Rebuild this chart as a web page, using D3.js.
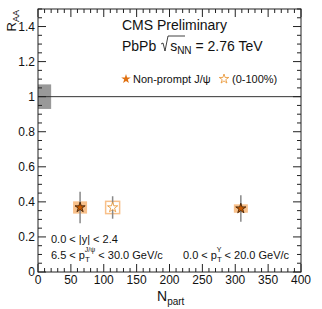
<!DOCTYPE html>
<html>
<head>
<meta charset="utf-8">
<script src="https://cdn.jsdelivr.net/npm/d3@7"></script>
<style>
  body { margin: 0; background: #fff; }
  svg { font-family: "Liberation Sans", Arial, sans-serif; }
</style>
</head>
<body>
<div id="chart"></div>
<script>
// data
const npart = [64, 113.5, 308.5];
const raa = [0.368, 0.368, 0.362];
const statErr = [0.09, 0.064, 0.076];
const sysErr = [0.035, 0.035, 0.024];
const filled = [true, false, true];
const globalSys = 0.07; // box at unity
const xTicks = [0, 50, 100, 150, 200, 250, 300, 350, 400];
const yTicks = [0, 0.2, 0.4, 0.6, 0.8, 1, 1.2, 1.4];

const W = 322, H = 309;
const margin = { top: 9, right: 21, bottom: 37, left: 38 },
  width = W - margin.left - margin.right,
  height = H - margin.top - margin.bottom;

const svg = d3.select("#chart").append("svg")
  .attr("width", W).attr("height", H);
const g = svg.append("g")
  .attr("transform", `translate(${margin.left},${margin.top})`);

const x = d3.scaleLinear().domain([0, 400]).range([0, width]);
const y = d3.scaleLinear().domain([0, 1.5]).range([height, 0]);

// global uncertainty box at 1
g.append("rect")
  .attr("x", x(0)).attr("width", x(20) - x(0))
  .attr("y", y(1 + globalSys)).attr("height", y(1 - globalSys) - y(1 + globalSys))
  .attr("fill", "#999");

// line at unity
g.append("line")
  .attr("x1", 0).attr("x2", width)
  .attr("y1", y(1)).attr("y2", y(1))
  .attr("stroke", "#333").attr("stroke-width", 1);

// ticks (ROOT style, all four sides)
const minorX = d3.range(0, 401, 10);
const minorY = d3.range(0, 1.501, 0.05);
const tickG = g.append("g").attr("stroke", "#222").attr("stroke-width", 1);
minorX.forEach((v) => {
  const len = v % 50 === 0 ? 8 : 4;
  tickG.append("line").attr("x1", x(v)).attr("x2", x(v)).attr("y1", height).attr("y2", height - len);
  tickG.append("line").attr("x1", x(v)).attr("x2", x(v)).attr("y1", 0).attr("y2", len);
});
minorY.forEach((v, i) => {
  const len = i % 4 === 0 ? 8 : 4;
  tickG.append("line").attr("x1", 0).attr("x2", len).attr("y1", y(v)).attr("y2", y(v));
  tickG.append("line").attr("x1", width).attr("x2", width - len).attr("y1", y(v)).attr("y2", y(v));
});

// frame
g.append("rect").attr("width", width).attr("height", height)
  .attr("fill", "none").attr("stroke", "#222").attr("stroke-width", 1);

// tick labels
g.selectAll(".xl").data(xTicks).join("text")
  .attr("x", (d) => x(d)).attr("y", height + 12)
  .attr("text-anchor", "middle").attr("font-size", 12).attr("fill", "#111")
  .text((d) => d);
g.selectAll(".yl").data(yTicks).join("text")
  .attr("x", -3).attr("y", (d) => y(d) + 4)
  .attr("text-anchor", "end").attr("font-size", 12).attr("fill", "#111")
  .text((d) => d);

// axis titles
const ty = svg.append("text")
  .attr("transform", `translate(16,${margin.top + 1}) rotate(-90)`)
  .attr("text-anchor", "end").attr("font-size", 13).attr("fill", "#111");
ty.append("tspan").text("R");
ty.append("tspan").attr("font-size", 9).attr("dy", 3).text("AA");

const tx = svg.append("text")
  .attr("x", 157).attr("y", 301).attr("font-size", 14).attr("fill", "#111");
tx.append("tspan").text("N");
tx.append("tspan").attr("font-size", 10).attr("dy", 4).text("part");

// header
svg.append("text").attr("x", 122).attr("y", 30).attr("font-size", 14).attr("fill", "#111")
  .text("CMS Preliminary");
const sub = svg.append("text").attr("x", 122).attr("y", 51).attr("font-size", 14).attr("fill", "#111");
sub.append("tspan").text("PbPb ");
sub.append("tspan").attr("dx", 10).text("s");
sub.append("tspan").attr("font-size", 10).attr("dy", 3).text("NN");
sub.append("tspan").attr("dy", -3).text(" = 2.76 TeV");
// sqrt sign
svg.append("path")
  .attr("d", "M161,44 L163,43 L165,51 L168,36 L185,36")
  .attr("fill", "none").attr("stroke", "#111").attr("stroke-width", 0.8);

// legend
const star = d3.symbol().type(d3.symbolStar);
svg.append("path").attr("d", star.size(28)()).attr("transform", "translate(126,79)")
  .attr("fill", "#e07010");
svg.append("text").attr("x", 133).attr("y", 83).attr("font-size", 11).attr("fill", "#111")
  .text("Non-prompt J/ψ");
svg.append("path").attr("d", star.size(28)()).attr("transform", "translate(224,79)")
  .attr("fill", "#fff").attr("stroke", "#e8902a").attr("stroke-width", 0.8);
svg.append("text").attr("x", 232).attr("y", 83).attr("font-size", 11).attr("fill", "#111")
  .text("(0-100%)");

// kinematic labels
svg.append("text").attr("x", 51).attr("y", 243).attr("font-size", 11).attr("fill", "#111")
  .text("0.0 < |y| < 2.4");
const k1 = svg.append("text").attr("x", 51).attr("y", 259).attr("font-size", 11).attr("fill", "#111");
k1.append("tspan").text("6.5 < p");
k1.append("tspan").attr("font-size", 8).attr("dy", 3).text("T");
k1.append("tspan").attr("font-size", 7).attr("dx", -5).attr("dy", -10).text("J/ψ");
k1.append("tspan").attr("dy", 7).text(" < 30.0 GeV/c");
const k2 = svg.append("text").attr("x", 183).attr("y", 259).attr("font-size", 11).attr("fill", "#111");
k2.append("tspan").text("0.0 < p");
k2.append("tspan").attr("font-size", 8).attr("dy", 3).text("T");
k2.append("tspan").attr("font-size", 7).attr("dx", -5).attr("dy", -10).text("Υ");
k2.append("tspan").attr("dy", 7).text(" < 20.0 GeV/c");

// data points
const pts = npart.map((d, i) => ({ n: d, r: raa[i], s: statErr[i], sy: sysErr[i], f: filled[i] }));
const pg = g.append("g");
pg.selectAll(".sys").data(pts).join("rect")
  .attr("x", (d) => x(d.n) - 7).attr("width", 14)
  .attr("y", (d) => y(d.r + d.sy)).attr("height", (d) => y(d.r - d.sy) - y(d.r + d.sy))
  .attr("fill", (d) => (d.f ? "#f8c08a" : "none"))
  .attr("stroke", (d) => (d.f ? "none" : "#f8c08a")).attr("stroke-width", 1.5);
pg.selectAll(".err").data(pts).join("line")
  .attr("x1", (d) => x(d.n)).attr("x2", (d) => x(d.n))
  .attr("y1", (d) => y(d.r + d.s)).attr("y2", (d) => y(d.r - d.s))
  .attr("stroke", "#888").attr("stroke-width", 1.5);
pg.selectAll(".pt").data(pts).join("path")
  .attr("d", star.size(32)())
  .attr("transform", (d) => `translate(${x(d.n)},${y(d.r)})`)
  .attr("fill", (d) => (d.f ? "#c85a00" : "#fff"))
  .attr("stroke", (d) => (d.f ? "#3a1a00" : "#e8902a"))
  .attr("stroke-width", 0.8);
</script>
</body>
</html>
